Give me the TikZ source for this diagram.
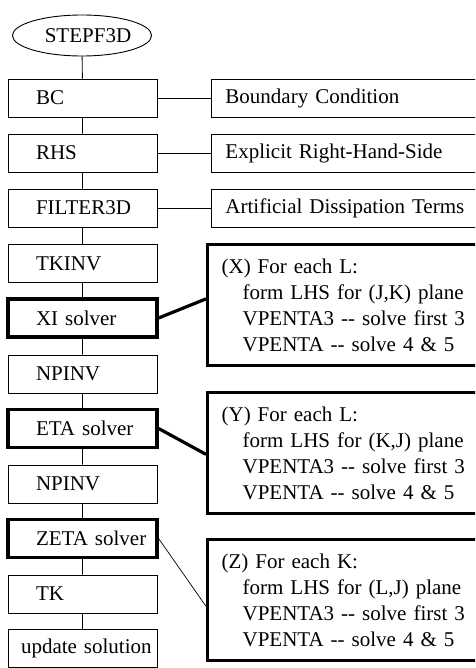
\documentclass[tikz,border=0pt]{standalone}
\usepackage{fontspec}
\setmainfont{Liberation Serif}
\usetikzlibrary{shapes.geometric,calc}
\newcommand{\dd}{-{}-}
\begin{document}
\begin{tikzpicture}[x=1pt,y=-1pt,
  every node/.style={font=\fontsize{21}{26}\selectfont},
  lbox/.style={draw,line width=0.9pt,minimum height=38pt,inner xsep=5pt,text width=139pt,align=left,inner ysep=0pt},
  tbox/.style={lbox,line width=3.2pt},
  dbox/.style={draw,line width=0.9pt,minimum height=38pt,inner xsep=14pt,text width=242pt,align=left,anchor=west,inner ysep=0pt},
  sbox/.style={draw,line width=3.2pt,minimum height=121pt,inner xsep=14pt,text width=246pt,align=left,anchor=north west},
  thin/.style={line width=0.9pt},
  thick/.style={line width=3.2pt}]
\clip (0,0) rectangle (475,668);
\useasboundingbox (0,0) rectangle (475,668);
\node[draw,ellipse,thin,minimum width=132pt,minimum height=41pt,inner sep=0pt] (start) at (82,35.5) {\hspace*{12pt}STEPF3D};
\node[lbox] (bc) at (82.5,98) {\hspace*{23pt}BC};
\node[lbox] (rhs) at (82.5,153) {\hspace*{23pt}RHS};
\node[lbox] (filt) at (82.5,208) {\hspace*{23pt}FILTER3D};
\node[lbox] (tkinv) at (82.5,263.5) {\hspace*{23pt}TKINV};
\node[tbox] (xi) at (82.5,318) {\hspace*{23pt}XI solver};
\node[lbox] (np1) at (82.5,374) {\hspace*{23pt}NPINV};
\node[tbox] (eta) at (82.5,428.5) {\hspace*{23pt}ETA solver};
\node[lbox] (np2) at (82.5,484) {\hspace*{23pt}NPINV};
\node[tbox] (zeta) at (82.5,538.5) {\hspace*{23pt}ZETA solver};
\node[lbox] (tk) at (82.5,594) {\hspace*{23pt}TK};
\node[lbox] (upd) at (82.5,648.5) {\hspace*{8pt}update solution};
\node[dbox] (dbc) at (211,98) {Boundary Condition};
\node[dbox] (drhs) at (211,153) {Explicit Right-Hand-Side};
\node[dbox] (dfilt) at (211,208) {Artificial Dissipation Terms};
\node[sbox] (X) at (206,243) {(X) For each L:\\\hspace*{21pt}form LHS for (J,K) plane\\\hspace*{21pt}VPENTA3 \dd{} solve first 3\\\hspace*{21pt}VPENTA \dd{} solve 4 \& 5};
\node[sbox] (Y) at (206,391) {(Y) For each L:\\\hspace*{21pt}form LHS for (K,J) plane\\\hspace*{21pt}VPENTA3 \dd{} solve first 3\\\hspace*{21pt}VPENTA \dd{} solve 4 \& 5};
\node[sbox] (Z) at (206,538) {(Z) For each K:\\\hspace*{21pt}form LHS for (L,J) plane\\\hspace*{21pt}VPENTA3 \dd{} solve first 3\\\hspace*{21pt}VPENTA \dd{} solve 4 \& 5};
\draw[thin] (start) -- (bc) (bc) -- (rhs) (rhs) -- (filt) (filt) -- (tkinv) (tkinv) -- (xi)
  (xi) -- (np1) (np1) -- (eta) (eta) -- (np2) (np2) -- (zeta) (zeta) -- (tk) (tk) -- (upd);
\draw[thin] (bc) -- (dbc);
\draw[thin] (rhs) -- (drhs);
\draw[thin] (filt) -- (dfilt);
\draw[thick] (xi.east) -- ($(X.north west)!0.45!(X.south west)$);
\draw[thick] (eta.east) -- ($(Y.north west)!0.51!(Y.south west)$);
\draw[line width=0.7pt] (zeta.east) -- ($(Z.north west)!0.55!(Z.south west)$);
\end{tikzpicture}
\end{document}
